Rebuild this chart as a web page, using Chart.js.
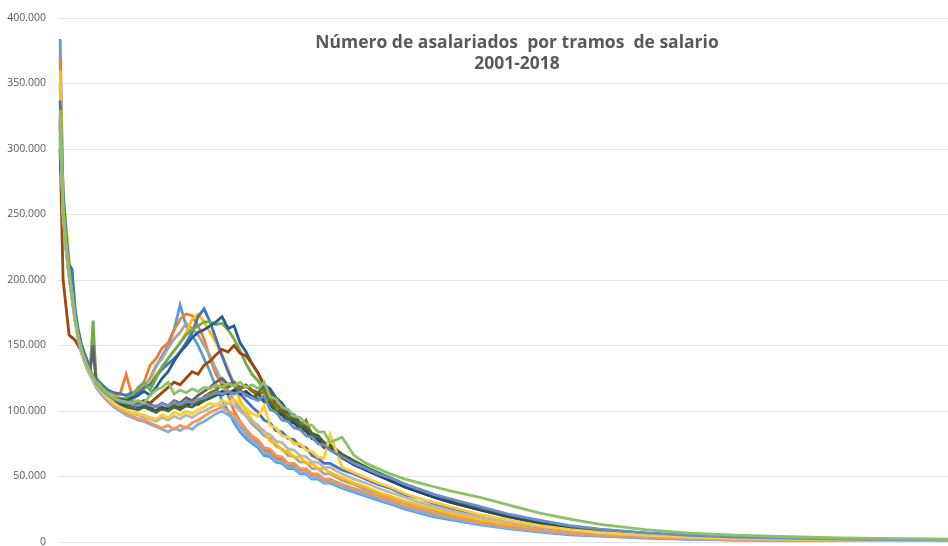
<!DOCTYPE html>
<html lang="es">
<head>
  <meta charset="UTF-8" />
  <title>Número de asalariados por tramos de salario</title>
  <script src="https://cdn.jsdelivr.net/npm/chart.js"></script>
  <style>
    html, body { margin: 0; padding: 0; background: #fff; }
    #wrap { position: relative; width: 948px; height: 546px; }
    #titulo {
      position: absolute; left: 267px; width: 500px; top: 31px;
      text-align: center; font-family: "Open Sans", sans-serif;
      font-weight: bold; font-size: 17.5px; line-height: 21px; color: #595959;
      white-space: pre; pointer-events: none;
    }
  </style>
</head>
<body>
  <div id="wrap">
    <canvas id="grafico" width="948" height="546"></canvas>
    <div id="titulo">Número de asalariados  por tramos  de salario
2001-2018</div>
  </div>

  <script>
    // tramos de salario (índice de tramo), compartidos por todas las series
    const tramos = [
      0,1,2,3,4,5,6,7,8,9,10,11,12,
      14,16,18,20,22,24,26,28,30,32,34,36,38,
      40,42,44,46,48,50,52,54,56,58,60,62,64,
      66,68,70,72,74,76,78,80,82,84,86,88,90,
      94,98,102,106,110,115,120,125,130,140,150,160,170,
      180,195,210,225,240,260,280,296
    ];

    // asalariados en miles
    const a2001 = [384,262,230,206,190,170,158,148,141,135,130,128,123,
      117,113,110,108,110,112,114,118,125,134,142,150,162,
      181,165,158,150,140,130,118,108,100,91,84,79,75,
      72,66,65,61,60,56,56,52,52,48,48,45,45,
      41,38,35,32,29,25,22,19,17,13,10,7.5,5.5,
      4.5,3,2,1.5,1.2,1,0.8,0.5];
    const a2002 = [370,258,232,210,200,175,160,150,143,137,131,126,122,
      118,114,112,113,128,112,116,122,135,140,148,152,162,
      170,174,173,165,155,140,128,120,112,100,92,85,80,
      76,70,69,64,63,59,59,55,55,51,51,47,48,
      43,40,37,34,31,27,24,21,19,14.5,11,8.5,6.5,
      5,3.5,2.5,1.8,1.4,1.1,0.9,0.6];
    const a2003 = [350,250,226,204,186,170,157,148,141,135,130,126,121,
      116,112,109,108,110,108,112,117,125,135,140,148,155,
      160,167,163,158,150,142,132,122,115,108,102,96,90,
      86,81,79,73,71,66,65,61,61,56,56,52,52,
      47,44,40,37,34,30,27,24,21,16,12.5,9.5,7,
      5.5,4,2.8,2,1.6,1.2,1,0.7];
    const a2004 = [360,265,242,215,192,175,162,151,143,137,132,127,123,
      118,114,111,110,108,111,113,116,122,128,133,140,146,
      152,160,170,174,168,160,152,143,132,120,108,100,93,
      88,85,77,75,70,69,65,65,60,60,56,56,53,
      49,45,42,38,35,31,28,25,22,17,13,10,7.5,
      6,4.2,3,2.2,1.7,1.3,1,0.8];
    const a2005 = [337,268,235,212,208,178,163,152,145,139,133,148,125,
      120,116,114,113,112,114,113,118,120,126,132,136,140,
      145,152,160,172,178,168,155,142,130,120,113,108,103,
      99,93,91,85,84,79,78,73,72,66,64,60,60,
      55,52,48,44,41,36,33,29,26,20,15,11.5,8.5,
      6.5,4.6,3.3,2.5,1.9,1.4,1.1,0.9];
    const a2006 = [325,255,228,208,190,172,158,148,141,135,130,169,124,
      118,113,110,109,110,112,118,122,116,125,134,140,146,
      152,158,162,165,168,168,166,167,162,155,146,136,128,
      123,115,111,103,100,94,92,87,85,79,77,72,71,
      66,60,56,52,48,43,39,35,32,26,20,15.5,12,
      9.5,6.8,4.8,3.6,2.8,2.1,1.6,1.3];
    const a2007 = [320,250,225,205,188,170,157,147,140,134,129,125,121,
      116,112,110,109,108,110,112,115,112,118,125,130,138,
      145,150,156,160,162,165,168,172,163,165,152,145,136,
      129,120,117,110,106,99,97,91,89,83,81,75,73,
      66,60,55,51,47,42,38,34,31,25,19.5,15,11.5,
      9,6.5,4.6,3.4,2.6,2,1.5,1.2];
    const a2008 = [300,200,179,158,156,154,150,146,140,135,130,126,120,
      114,110,106,104,103,104,106,108,106,110,114,118,122,
      120,125,130,128,135,138,143,147,145,150,144,142,136,
      129,119,114,105,102,96,94,87,85,79,78,72,71,
      64,59,55,51,47,42,38,34,30.5,24.5,19,14.5,11,
      8.7,6.3,4.5,3.3,2.5,1.9,1.5,1.1];
    const a2009 = [310,252,226,206,189,171,158,148,141,135,130,150,122,
      116,111,108,106,105,107,104,106,105,103,106,104,108,
      106,110,108,112,115,118,122,125,120,122,118,120,116,
      114,119,107,105,99,97,92,91,85,83,77,76,71,
      66,60,55,51,47,42,38,34,31,25,19.5,15,11.5,
      9,6.4,4.5,3.3,2.6,2,1.5,1.1];
    const a2010 = [305,248,224,204,187,170,157,147,140,134,129,125,120,
      115,110,107,105,104,103,105,103,102,104,101,103,105,
      103,106,108,107,111,114,116,120,118,121,117,119,115,
      112,115,106,104,98,96,91,88,93,81,80,75,73,
      66,61,57,52,48,43,38.5,34.5,31,25,19.5,15,11.5,
      9,6.5,4.6,3.4,2.6,2,1.5,1.2];
    const a2011 = [315,255,228,207,190,172,158,148,141,135,130,126,121,
      115,111,108,106,104,105,103,104,102,100,103,101,103,
      102,104,106,105,108,110,112,115,113,116,113,115,111,
      109,109,105,99,97,92,91,86,85,79,78,73,71,
      65,59,55,51,47,42,38,34,30.5,24.5,19,14.5,11,
      8.5,6.2,4.4,3.2,2.5,1.9,1.4,1.1];
    const a2012 = [300,250,225,205,188,170,157,147,140,134,129,125,120,
      115,110,106,104,103,102,101,103,101,99,102,100,103,
      101,104,103,106,108,110,113,112,115,113,116,112,110,
      113,107,106,100,99,94,93,88,87,82,81,76,74,
      67,62,57,53,49,44,40,36,32.5,26,20.5,16,12,
      9.3,6.7,4.8,3.5,2.7,2.1,1.6,1.2];
    const a2013 = [325,250,222,202,185,168,155,145,138,132,127,123,118,
      112,107,103,100,97,95,93,92,90,88,86,84,87,
      85,88,86,90,92,95,98,100,97,94,88,82,77,
      74,68,67,62,61,57,57,53,53,49,49,45,46,
      42,39,36,33,30,26,23,20,18,13.5,10.5,8,6,
      4.8,3.3,2.3,1.7,1.3,1,0.8,0.6];
    const a2014 = [320,248,223,203,186,169,156,146,139,133,128,124,119,
      113,108,104,101,98,96,94,93,91,89,87,89,86,
      89,87,91,93,96,99,101,103,100,97,92,86,81,
      78,72,71,66,65,60,60,56,56,52,52,48,48,
      44,41,38,35,32,28,25,22,19.5,15,11.5,9,6.8,
      5.3,3.8,2.7,2,1.5,1.2,0.9,0.7];
    const a2015 = [318,250,224,204,187,170,156,146,139,133,128,124,119,
      114,109,105,102,100,98,97,95,94,92,95,93,96,
      94,97,95,98,100,102,105,104,106,104,100,96,92,
      89,84,82,77,76,71,70,66,65,61,61,57,57,
      52,48,45,41,38,34,30,27,24,19,15,11.5,8.8,
      6.8,4.9,3.5,2.6,2,1.5,1.2,0.9];
    const a2016 = [318,252,226,205,188,170,157,147,140,134,129,125,120,
      115,110,106,103,101,99,98,97,95,94,97,95,99,
      97,100,98,101,103,106,104,108,106,109,105,102,98,
      96,104,89,87,81,80,75,75,70,69,65,64,82,
      57,53,49,45,42,37,33,30,27,21,16.5,12.5,9.5,
      7.4,5.3,3.8,2.8,2.2,1.7,1.3,1];
    const a2017 = [322,254,227,206,189,171,158,148,141,135,130,126,121,
      116,112,109,107,106,105,104,106,104,103,106,104,107,
      105,108,106,109,110,112,114,113,115,113,115,112,110,
      108,112,101,99,93,92,87,86,81,80,75,74,70,
      65,60,56,52,49,44,40,36,33,27,21,16.5,12.5,
      9.8,7,5,3.8,3,2.3,1.8,1.4];
    const a2018 = [330,256,228,207,190,172,158,148,141,135,130,126,122,
      117,113,110,108,107,106,108,106,112,116,118,122,113,
      116,114,117,115,118,117,120,118,121,119,122,118,120,
      117,122,111,109,103,101,96,95,90,89,84,84,76,
      80,66,60,56,52,48,45,42,39,34,28,22,17.5,
      13.5,9.5,6.8,5.2,4.2,3.2,2.6,2.1];

    const anios = ['2001','2002','2003','2004','2005','2006','2007','2008','2009',
                   '2010','2011','2012','2013','2014','2015','2016','2017','2018'];
    const series = [a2001,a2002,a2003,a2004,a2005,a2006,a2007,a2008,a2009,
                    a2010,a2011,a2012,a2013,a2014,a2015,a2016,a2017,a2018];
    const colores = ['#5B9BD5','#ED7D31','#A5A5A5','#FFC000','#4472C4','#70AD47',
                     '#255E91','#9E480E','#636363','#997300','#264478','#43682B',
                     '#7CAFDD','#F1975A','#B7B7B7','#FFCD33','#698ED0','#8CC168'];

    const datasets = series.map((vals, i) => ({
      label: anios[i],
      data: vals.map((v, k) => ({ x: tramos[k], y: v * 1000 })),
      borderColor: colores[i],
      backgroundColor: colores[i],
      borderWidth: 2.8,
      pointRadius: 0,
      tension: 0,
      order: -i   // las series posteriores quedan encima, como en Excel
    }));

    const fmt = v => v === 0 ? '0' : (v / 1000) + '.000';

    new Chart(document.getElementById('grafico'), {
      type: 'line',
      data: { datasets },
      options: {
        responsive: false,
        animation: false,
        layout: { padding: { top: 18, right: 0, bottom: 4, left: 0 } },
        plugins: { legend: { display: false }, tooltip: { enabled: false } },
        scales: {
          x: {
            type: 'linear', min: -0.7, max: 296, display: false
          },
          y: {
            min: 0, max: 400000,
            afterFit: s => { s.width = 58; s.paddingTop = 0; s.paddingBottom = 0; },
            border: { display: false },
            grid: { color: '#e4e4e4', drawTicks: false, lineWidth: 1 },
            ticks: {
              stepSize: 50000, padding: 12, color: '#595959',
              font: { family: '"Open Sans", sans-serif', size: 10.5 },
              callback: fmt
            }
          }
        }
      }
    });
  </script>
</body>
</html>
